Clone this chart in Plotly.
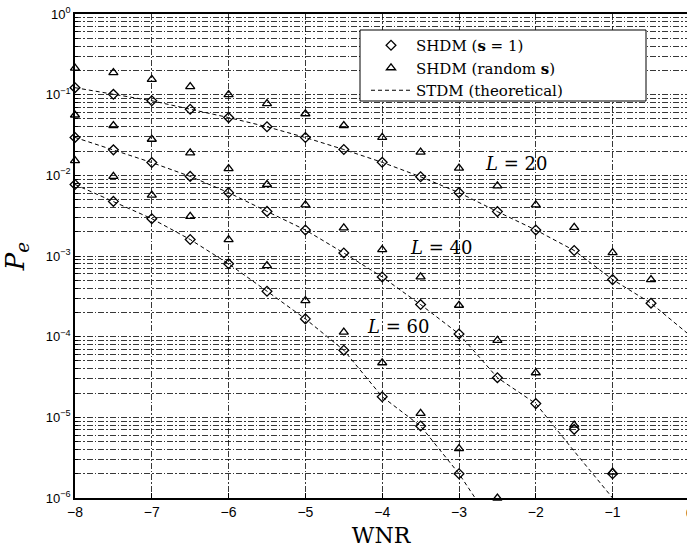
import plotly.graph_objects as go
import math

# ---------------- data ----------------
wnr = [-8, -7.5, -7, -6.5, -6, -5.5, -5, -4.5, -4, -3.5, -3, -2.5, -2, -1.5, -1, -0.5, 0]

# SHDM (s = 1) -- diamonds
shdm1_L20 = [0.122, 0.101, 0.084, 0.066, 0.052, 0.040, 0.0294, 0.0209, 0.0145, 0.0096, 0.0061,
             0.00355, 0.0021, 0.00117, 0.00051, 0.00026]
shdm1_L40 = [0.0295, 0.0207, 0.0144, 0.0097, 0.0061, 0.00357, 0.0021, 0.00109, 0.00055, 0.00025,
             0.000108, 3.1e-5, 1.48e-5, 7.1e-6, 2.0e-6]
shdm1_L60 = [0.0077, 0.00475, 0.0029, 0.0016, 0.0008, 0.000366, 0.000166, 6.8e-5, 1.8e-5,
             7.8e-6, 2.0e-6]

# SHDM (random s) -- triangles
shdmr_L20 = [0.213, 0.188, 0.155, 0.126, 0.100, 0.0776, 0.058, 0.0415, 0.0295, 0.0194, 0.0123,
             0.0074, 0.0043, 0.00226, 0.0011, 0.00051, 0.00019]
shdmr_L40 = [0.056, 0.0415, 0.028, 0.019, 0.0121, 0.0077, 0.0043, 0.00223, 0.0012, 0.00055,
             0.000245, 9.0e-5, 3.57e-5, 8.0e-6, 2.1e-6]
shdmr_L60 = [0.0152, 0.0097, 0.0057, 0.0031, 0.0016, 0.00076, 0.00028, 0.000114, 4.75e-5,
             1.12e-5, 4.1e-6, 1.0e-6]

# STDM (theoretical) -- dashed lines
th_L20_x = [-8, -7.5, -7, -6.5, -6, -5.5, -5, -4.5, -4, -3.5, -3, -2.5, -2, -1.5, -1, -0.5, 0]
th_L20_y = [0.122, 0.101, 0.084, 0.066, 0.052, 0.040, 0.0294, 0.0209, 0.0145, 0.0096, 0.0061,
            0.00355, 0.0021, 0.00117, 0.00051, 0.00026, 0.000105]
th_L40_x = [-8, -7.5, -7, -6.5, -6, -5.5, -5, -4.5, -4, -3.5, -3, -2.5, -2, -1.5, -1]
th_L40_y = [0.0295, 0.0207, 0.0144, 0.0097, 0.0061, 0.00357, 0.0021, 0.00109, 0.00055, 0.00025,
            0.000108, 3.1e-5, 1.48e-5, 3.8e-6, 1.0e-6]
th_L60_x = [-8, -7.5, -7, -6.5, -6, -5.5, -5, -4.5, -4, -3.5, -3, -2.79]
th_L60_y = [0.0077, 0.00475, 0.0029, 0.0016, 0.0008, 0.000366, 0.000166, 6.8e-5, 1.8e-5,
            7.8e-6, 2.0e-6, 1.0e-6]

x_ticks = [-8, -7, -6, -5, -4, -3, -2, -1]
x_ticktext = ["\u22128", "\u22127", "\u22126", "\u22125", "\u22124", "\u22123", "\u22122", "\u22121"]
y_ticks = [1e-6, 1e-5, 1e-4, 1e-3, 1e-2, 1e-1, 1]
y_ticktext = ["10<sup>\u22126</sup>", "10<sup>\u22125</sup>", "10<sup>\u22124</sup>",
              "10<sup>\u22123</sup>", "10<sup>\u22122</sup>", "10<sup>\u22121</sup>", "10<sup>0</sup>"]
y_minor = [m * 10.0 ** e for e in range(-6, 0) for m in range(2, 10)]

labels_text = ["<i>L</i> = 20", "<i>L</i> = 40", "<i>L</i> = 60"]
labels_x = [-2.26, -3.23, -3.79]
labels_y = [0.0142, 0.00126, 0.000133]

legend_names = ["SHDM (<b>s</b> = 1)", "SHDM (random <b>s</b>)", "STDM (theoretical)"]

# ---------------- figure ----------------
W, H = 687, 548
ML, MT, MB = 75, 14, 50
PW, PH = W - ML, H - MT - MB   # plot area size in px


def px_x(p):   # screen x -> paper
    return (p - ML) / PW


def px_y(p):   # screen y -> paper
    return (H - MB - p) / PH


fig = go.Figure()
serif = "DejaVu Serif"
sans = "Liberation Sans, Arial"

for i, (xs, ys) in enumerate([(th_L20_x, th_L20_y), (th_L40_x, th_L40_y), (th_L60_x, th_L60_y)]):
    fig.add_trace(go.Scatter(
        x=xs, y=ys, mode="lines", name=legend_names[2], legendgroup="th",
        showlegend=(i == 0), legendrank=3,
        line=dict(color="black", width=1, dash="4px,3px")))

for i, ys in enumerate([shdm1_L20, shdm1_L40, shdm1_L60]):
    fig.add_trace(go.Scatter(
        x=wnr[:len(ys)], y=ys, mode="markers", name=legend_names[0], legendgroup="d",
        showlegend=(i == 0), legendrank=1, cliponaxis=False,
        marker=dict(symbol="diamond-open", size=7.5, color="black", line=dict(width=1.3, color="black"))))

for i, ys in enumerate([shdmr_L20, shdmr_L40, shdmr_L60]):
    fig.add_trace(go.Scatter(
        x=wnr[:len(ys)], y=ys, mode="markers", name=legend_names[1], legendgroup="t",
        showlegend=(i == 0), legendrank=2, cliponaxis=False,
        marker=dict(symbol="triangle-up-open", size=8, color="black", line=dict(width=1.3, color="black"))))

for t, x, y in zip(labels_text, labels_x, labels_y):
    fig.add_annotation(x=x, y=math.log10(y), xref="x", yref="y", text=t, showarrow=False,
                       font=dict(family=serif, size=18, color="black"))

# partially visible tick label "0" at the right edge
fig.add_annotation(x=px_x(690), y=0, xref="paper", yref="paper", text="0", showarrow=False,
                   xanchor="center", yanchor="top", yshift=-5,
                   font=dict(family=sans, size=14, color="black"))

# legend frame
fig.add_shape(type="rect", xref="paper", yref="paper",
              x0=px_x(360), x1=px_x(646), y0=px_y(101), y1=px_y(30),
              fillcolor="white", line=dict(color="black", width=1), layer="above")

grid_color = "rgba(0,0,0,0.78)"
grid_dash = "6px,2px,1.5px,2px"

fig.update_layout(
    width=W, height=H,
    margin=dict(l=ML, r=0, t=MT, b=MB),
    paper_bgcolor="white", plot_bgcolor="white",
    showlegend=True,
    legend=dict(x=px_x(366), y=px_y(29), xanchor="left", yanchor="top",
                bgcolor="rgba(0,0,0,0)", borderwidth=0,
                font=dict(family="DejaVu Serif", size=15, color="black"),
                tracegroupgap=0, itemwidth=40),
    font=dict(family="DejaVu Serif", color="black"),
    xaxis=dict(range=[-8, -8 + PW / 76.8], tickvals=x_ticks, ticktext=x_ticktext, automargin=False,
               showgrid=True, gridcolor=grid_color, griddash=grid_dash, gridwidth=1,
               showline=True, linecolor="black", linewidth=1.5, mirror=True,
               ticks="inside", ticklen=5, tickcolor="black", zeroline=False,
               ticklabeloverflow="allow",
               tickfont=dict(family=sans, size=14, color="black"),
               title=dict(text="WNR", font=dict(family=serif, size=22, color="black"))),
    yaxis=dict(type="log", range=[-6, 0], tickvals=y_ticks, ticktext=y_ticktext, automargin=False,
               showgrid=True, gridcolor=grid_color, griddash=grid_dash, gridwidth=1,
               showline=True, linecolor="black", linewidth=1.5, mirror=True,
               ticks="inside", ticklen=5, tickcolor="black", zeroline=False,
               ticklabeloverflow="allow",
               tickfont=dict(family=sans, size=13, color="black"),
               minor=dict(tickvals=y_minor, showgrid=True, gridcolor=grid_color,
                          griddash=grid_dash, gridwidth=1, ticks="inside", ticklen=3,
                          tickcolor="black"),
               title=dict(text="<i>P</i><sub><i>e</i></sub>",
                          font=dict(family=serif, size=26, color="black"))),
)

# remove the browser's default 8px body margin so the figure sits at the page corner
fig.write_html("out.html",
               config={"displayModeBar": False},
               post_script="document.body.style.margin='0';document.body.style.overflow='hidden';")
